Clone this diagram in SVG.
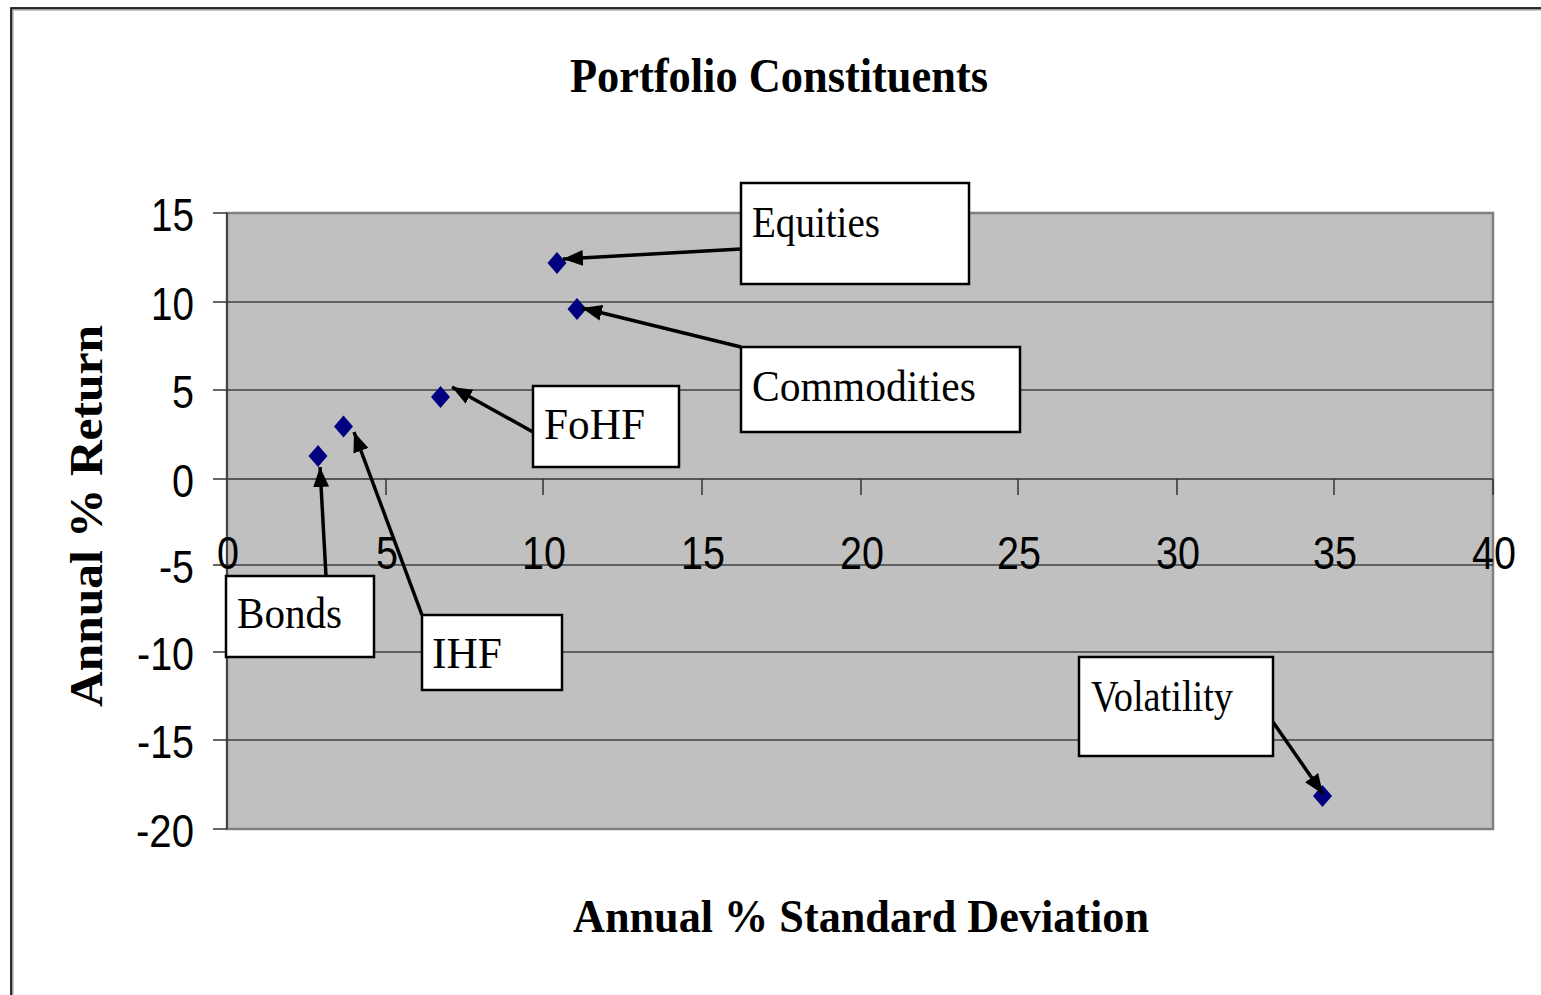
<svg xmlns="http://www.w3.org/2000/svg" width="1541" height="995" viewBox="0 0 1541 995">
<style>
.tick{font-family:"Liberation Sans",Arial,sans-serif;font-size:46px;fill:#000}
.serifb{font-family:"Liberation Serif","Times New Roman",serif;font-weight:bold;fill:#000}
.lbl{font-family:"Liberation Serif","Times New Roman",serif;font-size:44px;fill:#000}
.box{fill:#fff;stroke:#000;stroke-width:2.5}
.grid{stroke:#000;stroke-width:1.2}
.conn{stroke:#000;stroke-width:3.5;fill:none}
.pt{fill:#000080}
</style>
<defs>
<marker id="ah" markerUnits="userSpaceOnUse" markerWidth="24" markerHeight="18" refX="20" refY="8" orient="auto">
<path d="M0,0 L20,8 L0,16 Z" fill="#000"/>
</marker>
</defs>
<rect width="1541" height="995" fill="#fff"/>
<!-- outer frame -->
<path d="M12,995 V9 H1541" fill="none" stroke="#999" stroke-width="3"/>
<path d="M11,995 V8 H1541" fill="none" stroke="#000" stroke-width="1.5"/>
<!-- title -->
<text class="serifb" x="779" y="92" font-size="48" text-anchor="middle" textLength="418" lengthAdjust="spacingAndGlyphs">Portfolio Constituents</text>
<!-- plot area -->
<g id="plot">
<rect x="227" y="213" width="1266" height="616" fill="#c0c0c0" stroke="#808080" stroke-width="2.5"/>
<line class="grid" x1="227" y1="302" x2="1493" y2="302"/>
<line class="grid" x1="227" y1="390" x2="1493" y2="390"/>
<line class="grid" x1="227" y1="565" x2="1493" y2="565"/>
<line class="grid" x1="227" y1="652" x2="1493" y2="652"/>
<line class="grid" x1="227" y1="740" x2="1493" y2="740"/>
<line x1="227" y1="479" x2="1493" y2="479" stroke="#555" stroke-width="2"/>
<line x1="227" y1="213" x2="227" y2="829" stroke="#444" stroke-width="2"/>
<g stroke="#333" stroke-width="1.5">
<line x1="213" y1="213" x2="227" y2="213"/><line x1="213" y1="302" x2="227" y2="302"/>
<line x1="213" y1="390" x2="227" y2="390"/><line x1="213" y1="479" x2="227" y2="479"/>
<line x1="213" y1="565" x2="227" y2="565"/><line x1="213" y1="652" x2="227" y2="652"/>
<line x1="213" y1="740" x2="227" y2="740"/><line x1="213" y1="829" x2="227" y2="829"/>
<line x1="386" y1="479" x2="386" y2="495"/><line x1="543" y1="479" x2="543" y2="495"/>
<line x1="702" y1="479" x2="702" y2="495"/><line x1="861" y1="479" x2="861" y2="495"/>
<line x1="1018" y1="479" x2="1018" y2="495"/><line x1="1177" y1="479" x2="1177" y2="495"/>
<line x1="1334" y1="479" x2="1334" y2="495"/><line x1="1493" y1="479" x2="1493" y2="495"/>
</g>
</g>
<!-- y tick labels -->
<g id="ylabels" class="tick" text-anchor="end">
<text x="194" y="231" textLength="43" lengthAdjust="spacingAndGlyphs">15</text>
<text x="194" y="320" textLength="43" lengthAdjust="spacingAndGlyphs">10</text>
<text x="194" y="408" textLength="22" lengthAdjust="spacingAndGlyphs">5</text>
<text x="194" y="497" textLength="22" lengthAdjust="spacingAndGlyphs">0</text>
<text x="194" y="583" textLength="35" lengthAdjust="spacingAndGlyphs">-5</text>
<text x="194" y="670" textLength="57" lengthAdjust="spacingAndGlyphs">-10</text>
<text x="194" y="758" textLength="57" lengthAdjust="spacingAndGlyphs">-15</text>
<text x="194" y="847" textLength="58" lengthAdjust="spacingAndGlyphs">-20</text>
</g>
<!-- x tick labels -->
<g id="xlabels" class="tick" text-anchor="middle">
<text x="228" y="569" textLength="22" lengthAdjust="spacingAndGlyphs">0</text>
<text x="387" y="569" textLength="22" lengthAdjust="spacingAndGlyphs">5</text>
<text x="544" y="569" textLength="44" lengthAdjust="spacingAndGlyphs">10</text>
<text x="703" y="569" textLength="44" lengthAdjust="spacingAndGlyphs">15</text>
<text x="862" y="569" textLength="44" lengthAdjust="spacingAndGlyphs">20</text>
<text x="1019" y="569" textLength="44" lengthAdjust="spacingAndGlyphs">25</text>
<text x="1178" y="569" textLength="44" lengthAdjust="spacingAndGlyphs">30</text>
<text x="1335" y="569" textLength="44" lengthAdjust="spacingAndGlyphs">35</text>
<text x="1494" y="569" textLength="44" lengthAdjust="spacingAndGlyphs">40</text>
</g>
<!-- axis titles -->
<text class="serifb" font-size="46" transform="translate(102,516) rotate(-90)" text-anchor="middle" textLength="382" lengthAdjust="spacingAndGlyphs">Annual % Return</text>
<text class="serifb" x="861" y="932" font-size="46" text-anchor="middle" textLength="576" lengthAdjust="spacingAndGlyphs">Annual % Standard Deviation</text>
<!-- data points -->
<g id="points" class="pt">
<path d="M318,445 L327.5,456 L318,467 L308.5,456 Z"/>
<path d="M343.5,415.5 L353,426.5 L343.5,437.5 L334,426.5 Z"/>
<path d="M440.5,386 L450,397 L440.5,408 L431,397 Z"/>
<path d="M557,252 L566.5,263 L557,274 L547.5,263 Z"/>
<path d="M577,298 L586.5,309 L577,320 L567.5,309 Z"/>
<path d="M1322.5,785 L1332,796 L1322.5,807 L1313,796 Z"/>
</g>
<!-- connectors -->
<g id="connectors" class="conn">
<line x1="741" y1="249" x2="563" y2="259" marker-end="url(#ah)"/>
<line x1="741" y1="347" x2="582" y2="308" marker-end="url(#ah)"/>
<line x1="533" y1="432" x2="452" y2="387" marker-end="url(#ah)"/>
<line x1="326" y1="576" x2="320" y2="467" marker-end="url(#ah)"/>
<line x1="422" y1="615" x2="354" y2="432" marker-end="url(#ah)"/>
<line x1="1273" y1="722" x2="1323" y2="794" marker-end="url(#ah)"/>
</g>
<!-- callouts -->
<g id="equities"><rect class="box" x="741" y="183" width="228" height="101"/><text class="lbl" x="752" y="237" textLength="128" lengthAdjust="spacingAndGlyphs">Equities</text></g>
<g id="commodities"><rect class="box" x="741" y="347" width="279" height="85"/><text class="lbl" x="752" y="401" textLength="224" lengthAdjust="spacingAndGlyphs">Commodities</text></g>
<g id="fohf"><rect class="box" x="533" y="386" width="146" height="81"/><text class="lbl" x="544" y="439" textLength="101" lengthAdjust="spacingAndGlyphs">FoHF</text></g>
<g id="bonds"><rect class="box" x="226" y="576" width="148" height="81"/><text class="lbl" x="237" y="628" textLength="105" lengthAdjust="spacingAndGlyphs">Bonds</text></g>
<g id="ihf"><rect class="box" x="422" y="615" width="140" height="75"/><text class="lbl" x="432" y="668" textLength="70" lengthAdjust="spacingAndGlyphs">IHF</text></g>
<g id="volatility"><rect class="box" x="1079" y="657" width="194" height="99"/><text class="lbl" x="1091" y="711" textLength="142" lengthAdjust="spacingAndGlyphs">Volatility</text></g>
</svg>
